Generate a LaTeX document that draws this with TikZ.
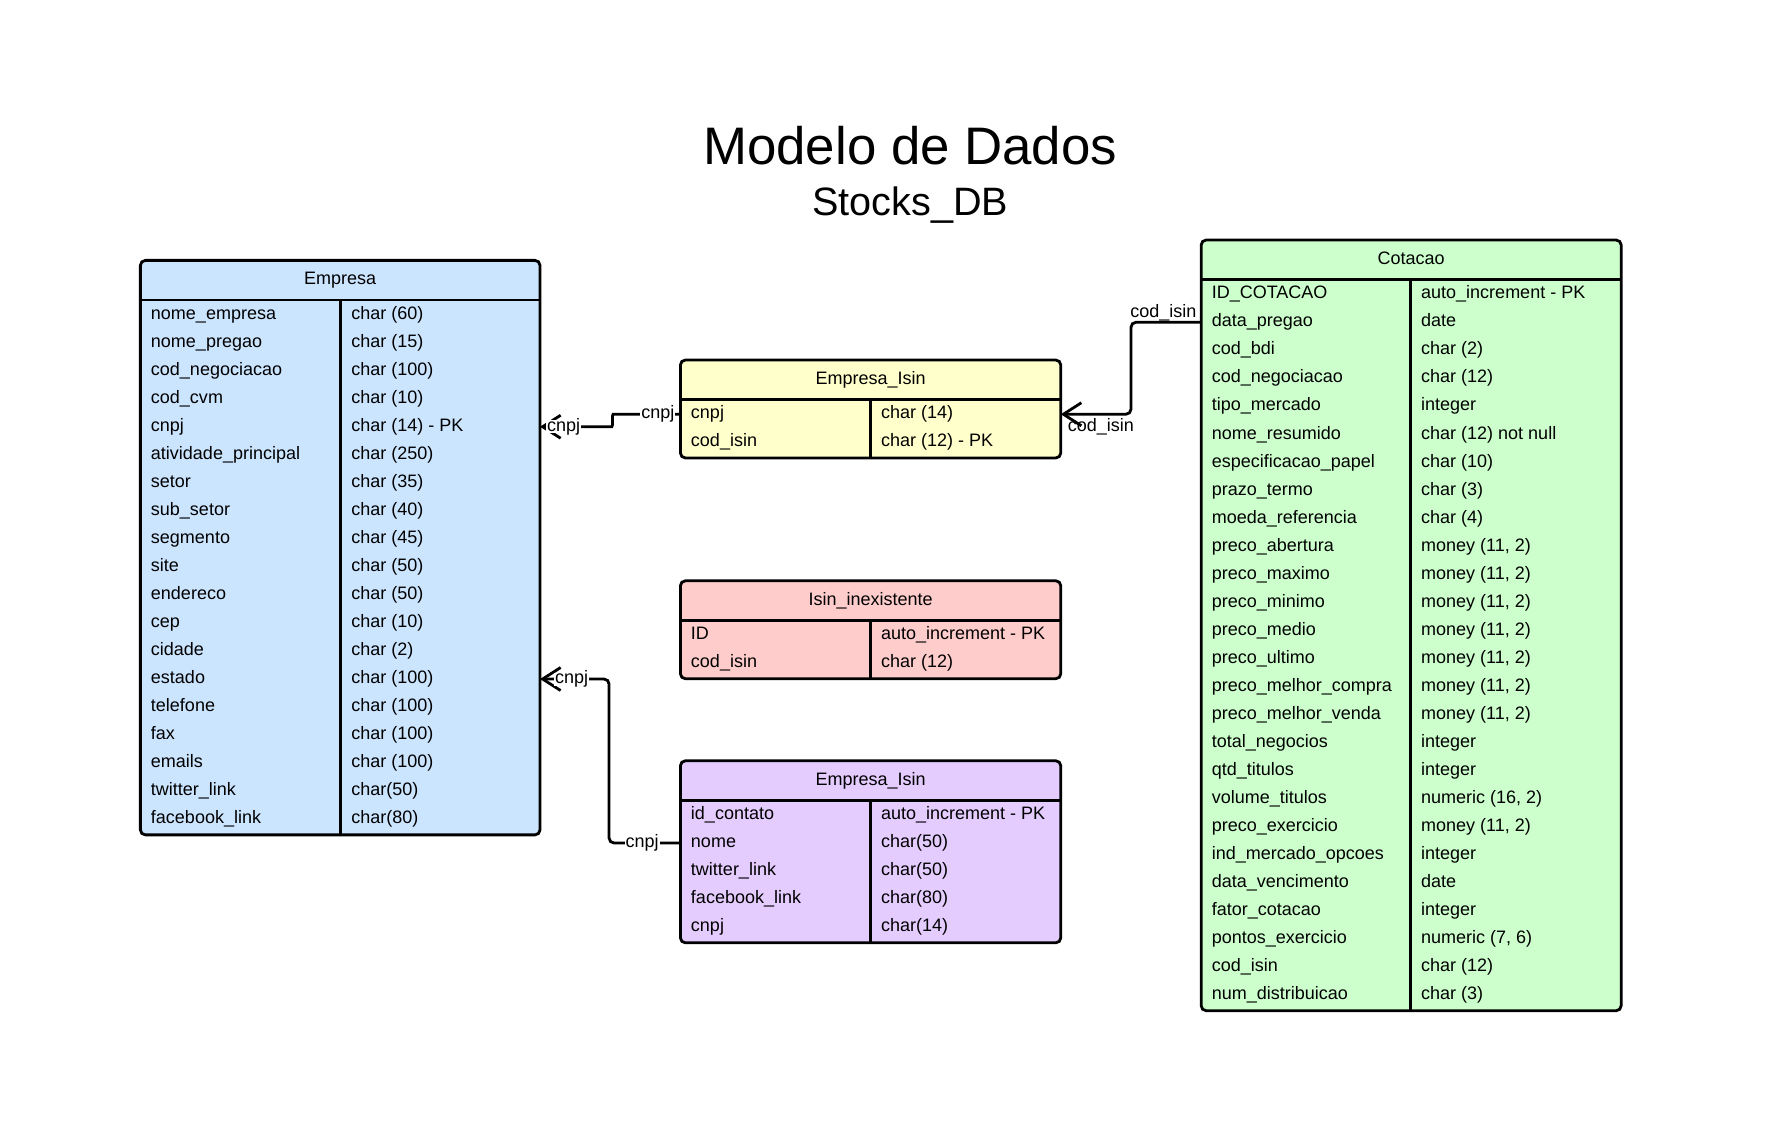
\documentclass[tikz,border=0pt]{standalone}
\usepackage{fontspec}
\setmainfont{Liberation Sans}
\usetikzlibrary{arrows.meta,calc}

\definecolor{azul}{RGB}{204,229,255}
\definecolor{verde}{RGB}{204,255,204}
\definecolor{amarelo}{RGB}{255,255,204}
\definecolor{rosa}{RGB}{255,204,204}
\definecolor{lilas}{RGB}{229,204,255}

\tikzset{
  borda/.style={draw=black,line width=1.4pt,rounded corners=2.5pt},
  linha/.style={draw=black,line width=1.4pt},
  titulo/.style={font=\fontsize{9}{10.8}\selectfont,inner sep=0pt,text height=6.5pt,text depth=1.9pt},
  campo/.style={titulo,anchor=west},
  liga/.style={draw=black,line width=1.4pt,rounded corners=2.5pt},
  seta/.style={-{Straight Barb[length=9pt,width=11.5pt]}},
  rotulo/.style={font=\fontsize{9}{10.8}\selectfont,inner sep=0.5pt,text height=5pt,text depth=0.5pt,fill=white},
}

\newcommand{\Caixa}[8]{%
  \pgfmathsetmacro{\yh}{#6+35}%
  \pgfmathsetmacro{\yb}{#6+37+24.76*#7}%
  \draw[borda,fill=#2] (#3,#6) coordinate (#1-nw) rectangle (#5,\yb) coordinate (#1-se);
  \draw[linha] (#3,\yh) -- (#5,\yh) (#4,\yh) -- (#4,\yb);
  \node[titulo] (#1-t) at ({(#3+#5)/2},{#6+17.5}) {#8};
}
\newcommand{\Campos}[5]{%
  \foreach \campo/\tipo [count=\i] in {#5}{
    \node[campo] (#1-c\i) at ({#2+9},{#4+47.9+24.76*(\i-1)}) {\campo};
    \node[campo] (#1-d\i) at ({#3+9},{#4+47.9+24.76*(\i-1)}) {\tipo};
  }
}

\begin{document}
\begin{tikzpicture}[x=0.566pt,y=-0.566pt]
  \useasboundingbox (0,0) rectangle (1567,994);
  \node[font=\fontsize{26.4}{30}\selectfont,anchor=base] (tit) at (804,145) {Modelo de Dados};
  \node[font=\fontsize{19.8}{24}\selectfont,anchor=base] (sub) at (804,190) {Stocks\_DB};

  \Caixa{emp}{azul}{124}{301}{477}{230}{19}{Empresa}
  \Campos{emp}{124}{301}{230}{nome\_empresa/char (60), nome\_pregao/char (15),
    cod\_negociacao/char (100), cod\_cvm/char (10), cnpj/char (14) - PK,
    atividade\_principal/char (250), setor/char (35), sub\_setor/char (40),
    segmento/char (45), site/char (50), endereco/char (50), cep/char (10),
    cidade/char (2), estado/char (100), telefone/char (100), fax/char (100),
    emails/char (100), twitter\_link/char(50), facebook\_link/char(80)}

  \Caixa{ei}{amarelo}{601}{769}{937}{318}{2}{Empresa\_Isin}
  \Campos{ei}{601}{769}{318}{cnpj/char (14), cod\_isin/char (12) - PK}

  \Caixa{ii}{rosa}{601}{769}{937}{513}{2}{Isin\_inexistente}
  \Campos{ii}{601}{769}{513}{ID/auto\_increment - PK, cod\_isin/char (12)}

  \Caixa{ec}{lilas}{601}{769}{937}{672}{5}{Empresa\_Isin}
  \Campos{ec}{601}{769}{672}{id\_contato/auto\_increment - PK, nome/char(50),
    twitter\_link/char(50), facebook\_link/char(80), cnpj/char(14)}

  \Caixa{cot}{verde}{1061}{1246}{1432}{212}{26}{Cotacao}
  \Campos{cot}{1061}{1246}{212}{ID\_COTACAO/auto\_increment - PK, data\_pregao/date,
    cod\_bdi/char (2), cod\_negociacao/char (12), tipo\_mercado/integer,
    nome\_resumido/char (12) not null, especificacao\_papel/char (10),
    prazo\_termo/char (3), moeda\_referencia/char (4),
    preco\_abertura/{money (11, 2)}, preco\_maximo/{money (11, 2)},
    preco\_minimo/{money (11, 2)}, preco\_medio/{money (11, 2)},
    preco\_ultimo/{money (11, 2)}, preco\_melhor\_compra/{money (11, 2)},
    preco\_melhor\_venda/{money (11, 2)}, total\_negocios/integer,
    qtd\_titulos/integer, volume\_titulos/{numeric (16, 2)},
    preco\_exercicio/{money (11, 2)}, ind\_mercado\_opcoes/integer,
    data\_vencimento/date, fator\_cotacao/integer,
    pontos\_exercicio/{numeric (7, 6)}, cod\_isin/char (12),
    num\_distribuicao/char (3)}

  \draw[liga,seta] (ei-c1 -| ei-nw) -- ++(-55,0) to[out=180,in=0] ($(emp-c5 -| emp-se)+(59,0)$) -- (emp-c5 -| emp-se);
  \draw[liga,seta] (cot-c2 -| cot-nw) -- ++(-62,0) |- (ei-c1 -| ei-se);
  \draw[liga,seta] (ec-c2 -| ec-nw) -- ++(-63,0) |- (emp-c14 -| emp-se);

  \node[rotulo,anchor=east] (r1) at ($(ei-c1 -| ei-nw)+(-4,0)$) {cnpj};
  \node[rotulo,anchor=west] (r2) at ($(emp-c5 -| emp-se)+(5,0)$) {cnpj};
  \node[rotulo,fill=none,anchor=east] (r3) at ($(cot-c2 -| cot-nw)+(-3,-8)$) {cod\_isin};
  \node[rotulo,fill=none,anchor=west] (r4) at ($(ei-c1 -| ei-se)+(5,11)$) {cod\_isin};
  \node[rotulo,anchor=east] (r5) at ($(ec-c2 -| ec-nw)+(-18,0)$) {cnpj};
  \node[rotulo,anchor=west] (r6) at ($(emp-c14 -| emp-se)+(12,0)$) {cnpj};
\end{tikzpicture}
\end{document}
